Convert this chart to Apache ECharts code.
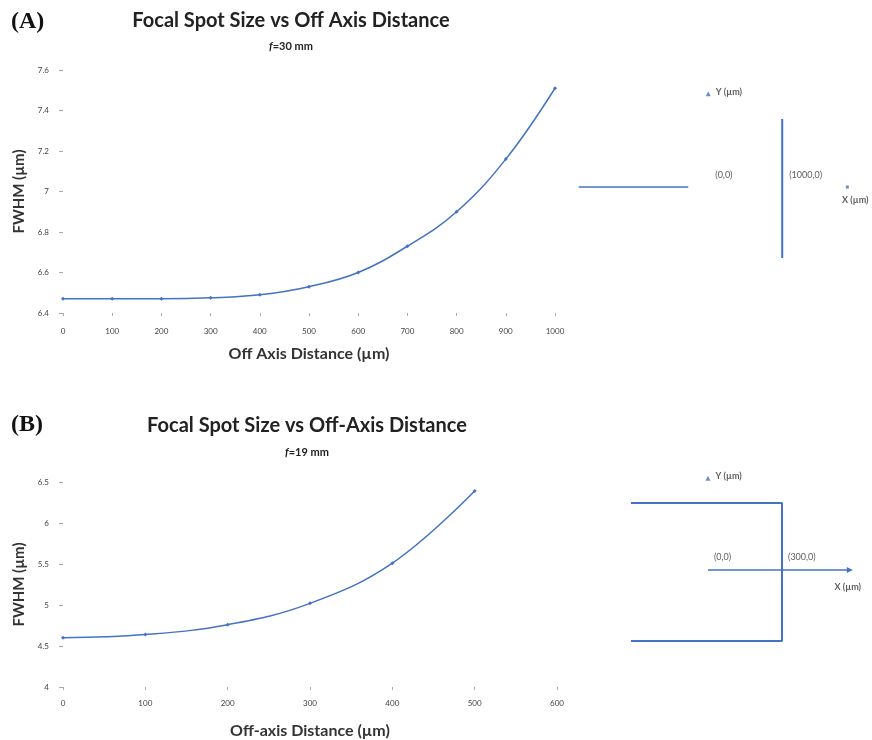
<!DOCTYPE html>
<html>
<head>
<meta charset="utf-8">
<script src="https://cdn.jsdelivr.net/npm/echarts@6/dist/echarts.min.js"></script>
<style>html,body{margin:0;padding:0;background:#fff;}#c{width:872px;height:740px;}</style>
</head>
<body>
<div id="c"></div>
<script>
// ---- Chart A data (f = 30 mm) ----
const distA = [0, 100, 200, 300, 400, 500, 600, 700, 800, 900, 1000];
const fwhmA = [6.47, 6.47, 6.47, 6.475, 6.49, 6.53, 6.60, 6.73, 6.90, 7.16, 7.51];
// ---- Chart B data (f = 19 mm) ----
const distB = [0, 100, 200, 300, 400, 500];
const fwhmB = [4.60, 4.64, 4.76, 5.02, 5.51, 6.39];

// ---- Schematic A (µm coordinates) ----
const schemA_xline = [[-1750, 0], [-270, 0]];
const schemA_edge = [[1000, 920], [1000, -960]];
const schemA_labels = [['(0,0)', 0, 0], ['(1000,0)', 1000, 0]];
const schemA_xMark = [1880, 0];
const schemA_yMark = [0, 1260];

// ---- Schematic B (µm coordinates) ----
const schemB_box = [[-312, 272], [300, 272], [300, -288], [-312, -288]];
const schemB_xline = [[0, 0], [575, 0]];
const schemB_labels = [['(0,0)', 0, 0], ['(300,0)', 300, 0]];
const schemB_yMark = [0, 372];

const blue = '#4472C4';
const txt = '#333';
const font = 'Lato, "Open Sans", sans-serif';

function pairs(xs, ys) { return xs.map((x, i) => [x, ys[i]]); }

const chart = echarts.init(document.getElementById('c'));

const axisLabelStyle = { fontSize: 8, color: '#444', fontFamily: font };
const subRich = { i: { fontStyle: 'italic', fontSize: 11, fontWeight: 'bold', fontFamily: font, color: '#222' } };

const option = {
  backgroundColor: '#fff',
  animation: false,
  title: [
    { text: '(A)', left: 6, top: 5, textStyle: { fontFamily: '"Liberation Serif", serif', fontSize: 24, fontWeight: 'bold', color: '#111' } },
    { text: 'Focal Spot Size vs Off Axis Distance', left: 286, top: 6, textAlign: 'center', textStyle: { fontFamily: font, fontSize: 20, fontWeight: 'bold', color: '#222' } },
    { text: '{i|f}=30 mm', left: 286, top: 36, textAlign: 'center', textStyle: { fontFamily: font, fontSize: 11, fontWeight: 'bold', color: '#222', rich: subRich } },
    { text: '(B)', left: 6, top: 408, textStyle: { fontFamily: '"Liberation Serif", serif', fontSize: 24, fontWeight: 'bold', color: '#111' } },
    { text: 'Focal Spot Size vs Off-Axis Distance', left: 302, top: 411, textAlign: 'center', textStyle: { fontFamily: font, fontSize: 20, fontWeight: 'bold', color: '#222' } },
    { text: '{i|f}=19 mm', left: 302, top: 442, textAlign: 'center', textStyle: { fontFamily: font, fontSize: 11, fontWeight: 'bold', color: '#222', rich: subRich } }
  ],
  grid: [
    { left: 63, top: 70, width: 492, height: 243 },
    { left: 63, top: 482, width: 494, height: 208 },
    { left: 578, top: 90.8, width: 293, height: 170.2 },
    { left: 629, top: 471.3, width: 227, height: 172.7 }
  ],
  xAxis: [
    { gridIndex: 0, type: 'value', min: 0, max: 1000, interval: 100,
      name: 'Off Axis Distance (µm)', nameLocation: 'middle', nameGap: 33,
      nameTextStyle: { fontFamily: font, fontSize: 16, fontWeight: 'bold', color: txt },
      axisLine: { show: false }, axisTick: { show: true, length: 3, lineStyle: { color: '#aaa' } },
      splitLine: { show: false }, axisLabel: Object.assign({ margin: 14, formatter: v => String(v) }, axisLabelStyle) },
    { gridIndex: 1, type: 'value', min: 0, max: 600, interval: 100,
      name: 'Off-axis Distance (µm)', nameLocation: 'middle', nameGap: 36,
      nameTextStyle: { fontFamily: font, fontSize: 16, fontWeight: 'bold', color: txt },
      axisLine: { show: false }, axisTick: { show: true, length: 3, lineStyle: { color: '#aaa' } },
      splitLine: { show: false }, axisLabel: Object.assign({ margin: 12 }, axisLabelStyle) },
    { gridIndex: 2, type: 'value', min: -1760, max: 2200, show: false },
    { gridIndex: 3, type: 'value', min: -320, max: 600, show: false }
  ],
  yAxis: [
    { gridIndex: 0, type: 'value', min: 6.4, max: 7.6, interval: 0.2,
      name: 'FWHM (µm)', nameLocation: 'middle', nameGap: 36,
      nameTextStyle: { fontFamily: font, fontSize: 15, fontWeight: 'bold', color: txt },
      axisLine: { show: false }, axisTick: { show: true, length: 4, lineStyle: { color: '#aaa' } },
      splitLine: { show: false }, axisLabel: Object.assign({ margin: 14, formatter: v => String(+v.toFixed(1)) }, axisLabelStyle) },
    { gridIndex: 1, type: 'value', min: 4, max: 6.5, interval: 0.5,
      name: 'FWHM (µm)', nameLocation: 'middle', nameGap: 36,
      nameTextStyle: { fontFamily: font, fontSize: 15, fontWeight: 'bold', color: txt },
      axisLine: { show: false }, axisTick: { show: true, length: 4, lineStyle: { color: '#aaa' } },
      splitLine: { show: false }, axisLabel: Object.assign({ margin: 14 }, axisLabelStyle) },
    { gridIndex: 2, type: 'value', min: -1000, max: 1300, show: false },
    { gridIndex: 3, type: 'value', min: -300, max: 400, show: false }
  ],
  series: [
    { type: 'line', xAxisIndex: 0, yAxisIndex: 0, data: pairs(distA, fwhmA), smooth: 0.4,
      symbol: 'diamond', symbolSize: 4, itemStyle: { color: blue }, lineStyle: { color: blue, width: 1.5 } },
    { type: 'line', xAxisIndex: 1, yAxisIndex: 1, data: pairs(distB, fwhmB), smooth: 0.4,
      symbol: 'diamond', symbolSize: 4, itemStyle: { color: blue }, lineStyle: { color: blue, width: 1.5 } },

    // Schematic A
    { type: 'line', xAxisIndex: 2, yAxisIndex: 2, data: schemA_xline, symbol: 'none', lineStyle: { color: blue, width: 1.5 } },
    { type: 'line', xAxisIndex: 2, yAxisIndex: 2, data: schemA_edge, symbol: 'none', lineStyle: { color: blue, width: 2 } },
    { type: 'scatter', xAxisIndex: 2, yAxisIndex: 2, symbolSize: 0,
      data: schemA_labels.map(d => ({ name: d[0], value: [d[1], d[2]] })),
      label: { show: true, position: 'insideBottomLeft', offset: [2, -2], formatter: p => p.name, fontSize: 9, color: '#333', fontFamily: font } },
    { type: 'scatter', xAxisIndex: 2, yAxisIndex: 2, symbol: 'rect', symbolSize: 3, itemStyle: { color: blue },
      data: [{ name: 'X (µm)', value: schemA_xMark }],
      label: { show: true, position: 'bottom', offset: [8, 2], formatter: p => p.name, fontSize: 9, fontWeight: 'bold', color: '#333', fontFamily: font } },
    { type: 'scatter', xAxisIndex: 2, yAxisIndex: 2, symbol: 'triangle', symbolSize: 5, itemStyle: { color: blue },
      data: [{ name: 'Y (µm)', value: schemA_yMark }],
      label: { show: true, position: 'right', offset: [0, -2], formatter: p => p.name, fontSize: 9, fontWeight: 'bold', color: '#333', fontFamily: font } },

    // Schematic B
    { type: 'line', xAxisIndex: 3, yAxisIndex: 3, data: schemB_box, symbol: 'none', lineStyle: { color: blue, width: 2 } },
    { type: 'line', xAxisIndex: 3, yAxisIndex: 3, symbol: 'none', lineStyle: { color: blue, width: 1.5 },
      data: schemB_xline.map((p, i) => i === schemB_xline.length - 1
        ? { value: p, symbol: 'triangle', symbolSize: 6, symbolRotate: -90, itemStyle: { color: blue } }
        : p) },
    { type: 'scatter', xAxisIndex: 3, yAxisIndex: 3, symbolSize: 0,
      data: schemB_labels.map(d => ({ name: d[0], value: [d[1], d[2]] })),
      label: { show: true, position: 'insideBottomLeft', offset: [1, -3], formatter: p => p.name, fontSize: 9, color: '#333', fontFamily: font } },
    { type: 'scatter', xAxisIndex: 3, yAxisIndex: 3, symbolSize: 0,
      data: [{ name: 'X (µm)', value: schemB_xline[schemB_xline.length - 1] }],
      label: { show: true, position: 'bottom', offset: [-2, 8], formatter: p => p.name, fontSize: 9, fontWeight: 'bold', color: '#333', fontFamily: font } },
    { type: 'scatter', xAxisIndex: 3, yAxisIndex: 3, symbol: 'triangle', symbolSize: 5, itemStyle: { color: blue },
      data: [{ name: 'Y (µm)', value: schemB_yMark }],
      label: { show: true, position: 'right', offset: [0, -2], formatter: p => p.name, fontSize: 9, fontWeight: 'bold', color: '#333', fontFamily: font } }
  ]
};
chart.setOption(option);
</script>
</body>
</html>
